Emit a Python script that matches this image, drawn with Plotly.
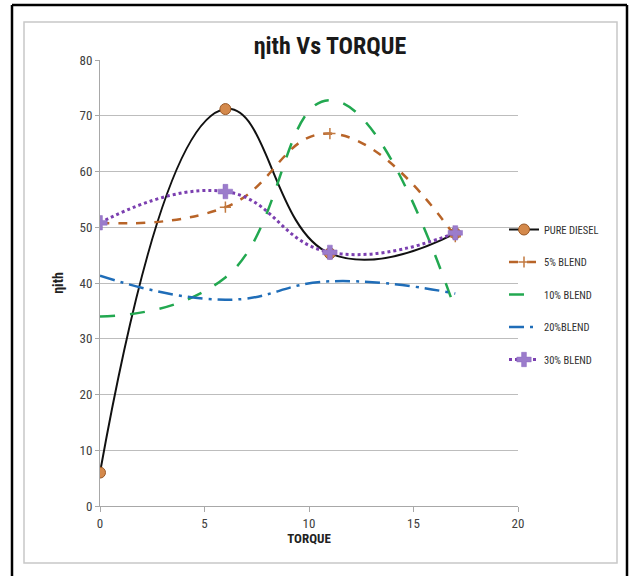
import plotly.graph_objects as go

torque = [0, 6, 11, 17]
pure_diesel = [6, 71.2, 45.3, 48.9]
blend5 = [50.8, 53.6, 66.8, 48.3]
blend10 = [34.0, 41.0, 72.8, 35.2]
blend20 = [41.3, 37.0, 40.3, 38.1]
blend30 = [50.8, 56.4, 45.5, 49.0]

names = ["PURE DIESEL", "5% BLEND", "10% BLEND", "20%BLEND", "30% BLEND"]

FONT = "Liberation Sans Narrow, Arial Narrow, Roboto Condensed, Liberation Sans, sans-serif"

W, H = 630, 576
L, R, T, B = 100, 112, 60, 70
PW, PH = W - L - R, H - T - B
SM = 1.3

def px(x):
    return (x - L) / PW

def py(y):
    return (H - B - y) / PH

fig = go.Figure()

fig.add_trace(go.Scatter(
    x=torque, y=pure_diesel, name=names[0], mode="lines+markers",
    line=dict(color="#111111", width=2, shape="spline", smoothing=SM),
    marker=dict(symbol="circle", size=11, color="#d4894b", line=dict(color="#9a5a28", width=1)),
    legendgroup="a"))
fig.add_trace(go.Scatter(
    x=torque, y=blend5, name=names[1], mode="lines+markers",
    line=dict(color="#b86428", width=2.5, dash="dash", shape="spline", smoothing=SM),
    marker=dict(symbol="cross-thin", size=8, color="#c27a40", line=dict(color="#c27a40", width=1.5)),
    legendgroup="b"))
fig.add_trace(go.Scatter(
    x=torque, y=blend10, name=names[2], mode="lines",
    line=dict(color="#22a850", width=2.5, dash="longdash", shape="spline", smoothing=SM),
    legendgroup="c"))
fig.add_trace(go.Scatter(
    x=torque, y=blend20, name=names[3], mode="lines",
    line=dict(color="#1f6db8", width=2.5, dash="longdashdot", shape="spline", smoothing=SM),
    legendgroup="d"))
fig.add_trace(go.Scatter(
    x=torque, y=blend30, name=names[4], mode="lines+markers",
    line=dict(color="#7b3fb0", width=3, dash="dot", shape="spline", smoothing=SM),
    marker=dict(symbol="cross", size=12, color="#9b7ccb", line=dict(color="#8a66c0", width=0.5)),
    legendgroup="e"))

shapes = [
    # inner chart box
    dict(type="rect", xref="paper", yref="paper",
         x0=px(24), x1=px(617), y0=py(563), y1=py(22),
         line=dict(color="#c8c8c8", width=1.5), layer="below"),
    # outer black frame lines
    dict(type="line", xref="paper", yref="paper", x0=px(12), x1=px(627), y0=py(5), y1=py(5),
         line=dict(color="#000000", width=2.5)),
    dict(type="line", xref="paper", yref="paper", x0=px(12), x1=px(12), y0=py(5), y1=py(580),
         line=dict(color="#000000", width=2.5)),
    dict(type="line", xref="paper", yref="paper", x0=px(627), x1=px(627), y0=py(5), y1=py(580),
         line=dict(color="#000000", width=2.5)),
]

fig.update_layout(
    width=W, height=H,
    margin=dict(l=L, r=R, t=T, b=B),
    paper_bgcolor="white", plot_bgcolor="white",
    font=dict(family=FONT, color="#404040", size=12),
    title=dict(text="<b>ηith Vs TORQUE</b>", xref="container", x=330 / W, xanchor="center",
               yref="container", y=1 - 46 / H, yanchor="middle",
               font=dict(family=FONT, size=24, color="#1a1a1a")),
    xaxis=dict(range=[0, 20], tickvals=[0, 5, 10, 15, 20], showgrid=False, zeroline=False,
               showline=True, linecolor="#a8a8a8", linewidth=1,
               ticks="outside", ticklen=5, tickcolor="#a8a8a8",
               tickfont=dict(size=13, color="#404040"),
               title=dict(text="<b>TORQUE</b>", standoff=0,
                          font=dict(size=13, color="#222222"))),
    yaxis=dict(range=[0, 80], tickvals=list(range(0, 81, 10)), showgrid=True,
               gridcolor="#bdbdbd", gridwidth=1, zeroline=False,
               showline=True, linecolor="#a8a8a8", linewidth=1,
               ticks="outside", ticklen=4, tickcolor="#a8a8a8",
               tickfont=dict(size=13, color="#404040"),
               title=dict(text="<b>ηith</b>", standoff=12,
                          font=dict(size=14, color="#222222"))),
    legend=dict(x=px(504), y=py(215), xanchor="left", yanchor="top",
                font=dict(family=FONT, size=10.5, color="#303030"),
                tracegroupgap=13.5, bgcolor="rgba(0,0,0,0)"),
    shapes=shapes,
)

fig.write_html("out.html")
